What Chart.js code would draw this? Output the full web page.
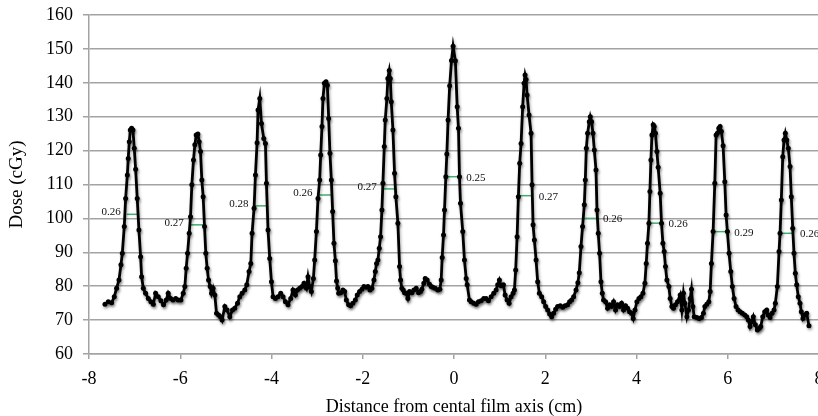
<!DOCTYPE html>
<html>
<head>
<meta charset="utf-8">
<script src="https://cdn.jsdelivr.net/npm/chart.js@4.4.1/dist/chart.umd.min.js"></script>
<style>
  html, body { margin: 0; padding: 0; background: #fff; overflow: hidden; }
  #wrap { width: 818px; height: 416px; overflow: hidden; }
</style>
</head>
<body>
<div id="wrap"><canvas id="chart" width="830" height="416"></canvas></div>
<script>
// film profile, distance from central axis (cm) and dose (cGy)
const distance = [
  -7.650,-7.577,-7.504,-7.446,-7.395,-7.343,-7.300,-7.270,-7.227,-7.197,
  -7.160,-7.140,-7.117,-7.095,-7.066,-7.037,-7.008,-6.978,-6.943,-6.906,
  -6.869,-6.847,-6.810,-6.760,-6.700,-6.643,-6.590,-6.540,-6.483,-6.424,
  -6.366,-6.307,-6.264,-6.212,-6.160,-6.100,-6.045,-5.986,-5.935,-5.899,
  -5.870,-5.840,-5.804,-5.775,-5.746,-5.710,-5.680,-5.651,-5.614,-5.585,
  -5.556,-5.527,-5.498,-5.468,-5.440,-5.410,-5.380,-5.345,-5.315,-5.280,
  -5.242,-5.205,-5.160,-5.120,-5.083,-5.023,-4.973,-4.914,-4.855,-4.805,
  -4.745,-4.695,-4.645,-4.586,-4.542,-4.492,-4.454,-4.426,-4.382,-4.352,
  -4.316,-4.295,-4.257,-4.220,-4.170,-4.133,-4.111,-4.076,-4.039,-4.001,
  -3.966,-3.914,-3.857,-3.798,-3.747,-3.695,-3.638,-3.579,-3.529,-3.476,
  -3.432,-3.382,-3.332,-3.288,-3.235,-3.200,-3.163,-3.126,-3.082,-3.054,
  -3.016,-2.981,-2.944,-2.922,-2.894,-2.872,-2.841,-2.806,-2.776,-2.747,
  -2.719,-2.688,-2.660,-2.631,-2.600,-2.575,-2.550,-2.528,-2.485,-2.434,
  -2.397,-2.360,-2.310,-2.266,-2.216,-2.163,-2.120,-2.069,-2.018,-1.974,
  -1.922,-1.886,-1.842,-1.800,-1.755,-1.725,-1.697,-1.668,-1.638,-1.609,
  -1.580,-1.558,-1.528,-1.507,-1.471,-1.450,-1.419,-1.397,-1.375,-1.339,
  -1.303,-1.274,-1.230,-1.193,-1.171,-1.143,-1.113,-1.084,-1.048,-1.011,
  -0.974,-0.923,-0.880,-0.828,-0.777,-0.734,-0.705,-0.661,-0.631,-0.588,
  -0.537,-0.500,-0.464,-0.412,-0.355,-0.310,-0.281,-0.259,-0.230,-0.208,
  -0.179,-0.157,-0.130,-0.095,-0.055,-0.020,0.030,0.070,0.098,0.120,
  0.142,0.192,0.229,0.267,0.289,0.339,0.376,0.433,0.485,0.536,
  0.595,0.652,0.704,0.755,0.814,0.871,0.923,0.958,0.995,1.033,
  1.083,1.120,1.164,1.208,1.252,1.295,1.324,1.352,1.383,1.411,
  1.440,1.470,1.505,1.536,1.558,1.580,1.602,1.645,1.689,1.711,
  1.733,1.762,1.799,1.834,1.871,1.921,1.965,2.009,2.053,2.096,
  2.140,2.184,2.228,2.271,2.330,2.381,2.433,2.490,2.534,2.578,
  2.622,2.674,2.715,2.746,2.783,2.818,2.856,2.878,2.900,2.928,
  2.965,2.987,3.016,3.046,3.075,3.112,3.134,3.162,3.191,3.221,
  3.250,3.278,3.322,3.366,3.410,3.453,3.497,3.541,3.585,3.629,
  3.672,3.716,3.760,3.804,3.847,3.891,3.928,3.966,4.009,4.053,
  4.097,4.141,4.184,4.213,4.241,4.272,4.294,4.316,4.338,4.366,
  4.388,4.416,4.447,4.475,4.519,4.548,4.578,4.607,4.635,4.666,
  4.710,4.738,4.775,4.810,4.854,4.898,4.957,4.994,5.029,5.060,
  5.104,5.139,5.176,5.205,5.235,5.264,5.323,5.373,5.423,5.467,
  5.498,5.541,5.585,5.614,5.642,5.679,5.716,5.745,5.773,5.804,
  5.832,5.861,5.898,5.935,5.964,5.992,6.029,6.066,6.101,6.139,
  6.182,6.226,6.270,6.320,6.373,6.416,6.451,6.489,6.526,6.561,
  6.605,6.649,6.693,6.723,6.767,6.810,6.854,6.883,6.927,6.971,
  7.014,7.043,7.087,7.124,7.146,7.174,7.205,7.233,7.262,7.293,
  7.327,7.365,7.393,7.424,7.452,7.481,7.511,7.546,7.583,7.612,
  7.649,7.686,7.730,7.780
];
const dose = [
  74.7,75.4,75.1,76.9,79.4,81.8,86.3,89.7,97.6,105.9,
  112.8,117.7,122.6,126.1,126.6,126.1,120.7,114.5,105.9,96.6,
  88.7,82.8,79.4,77.9,76.4,75.4,74.7,77.9,76.9,75.7,
  74.5,75.9,77.9,76.4,75.9,76.4,75.9,75.9,77.9,79.9,
  85.3,89.7,95.6,100.5,109.9,117.2,121.7,124.6,124.9,122.6,
  119.7,111.3,106.4,97.6,89.7,85.3,81.8,79.9,77.9,79.4,
  77.4,72.0,71.5,71.0,70.0,74.0,73.0,71.0,73.0,73.5,
  75.0,76.9,77.9,78.9,80.4,84.3,86.7,95.6,103.0,112.8,
  122.3,132.0,135.4,128.0,123.6,122.1,110.4,96.6,88.2,81.3,
  76.9,76.4,76.9,77.9,76.9,75.4,74.5,76.4,78.9,77.4,
  78.9,79.4,79.9,80.9,79.4,82.8,79.9,78.4,82.3,87.7,
  96.1,105.9,111.3,118.7,127.1,135.4,139.9,140.3,139.3,129.5,
  119.2,111.3,102.0,92.7,87.5,81.5,79.5,77.9,78.1,78.9,
  78.4,75.9,74.5,74.2,75.0,75.9,77.4,78.4,79.1,79.9,
  79.7,79.9,78.9,79.4,81.8,84.3,86.7,87.7,91.2,94.6,
  102.5,110.4,121.2,129.0,135.4,141.3,143.6,141.3,134.4,126.1,
  113.3,106.4,98.6,85.8,81.8,79.4,78.9,78.1,77.9,76.4,
  78.4,78.1,78.9,79.4,78.1,78.4,79.1,80.9,82.3,81.8,
  80.6,79.9,79.7,79.4,78.9,79.1,81.8,88.5,95.1,102.5,
  112.3,119.0,129.0,139.1,146.6,150.8,146.5,132.9,126.6,112.3,
  104.5,96.1,87.7,82.3,80.4,75.9,75.4,75.0,74.7,75.4,
  75.7,76.4,76.4,75.7,76.9,77.9,78.9,80.4,81.8,80.1,
  80.4,77.4,75.9,75.0,76.9,77.9,78.9,84.8,94.6,106.4,
  116.3,122.1,132.9,139.9,142.3,141.0,136.4,130.5,125.1,109.9,
  98.1,93.6,87.7,81.3,77.9,76.9,75.4,74.0,73.0,71.8,
  71.0,72.0,73.2,74.0,74.2,73.8,74.2,74.5,75.4,75.9,
  76.9,78.9,81.0,84.0,91.7,97.6,104.0,111.3,120.7,125.1,
  128.5,130.0,128.5,125.1,120.2,114.3,102.5,95.6,89.7,81.3,
  77.9,75.9,75.4,73.5,74.5,74.0,75.4,73.0,74.5,74.0,
  75.0,73.0,74.2,73.5,72.5,72.0,70.5,73.0,75.4,76.4,
  76.9,77.9,80.9,86.7,92.7,98.6,107.9,117.2,124.6,127.6,
  127.1,125.1,119.7,115.1,107.4,98.6,92.7,90.2,85.8,81.8,
  79.9,76.4,74.0,73.5,74.5,75.4,77.4,73.0,77.9,75.0,
  71.0,73.0,76.4,79.1,74.0,71.0,70.8,70.5,70.8,72.0,
  74.0,74.7,75.4,78.4,86.7,96.1,110.4,124.6,125.1,126.6,
  127.1,125.6,121.4,110.8,101.0,96.1,89.7,84.3,79.9,76.4,
  74.0,73.0,72.5,72.0,71.5,71.0,70.0,68.1,69.5,71.0,
  68.6,67.1,67.6,68.1,71.0,72.5,73.0,71.5,70.8,72.0,
  73.0,75.0,79.9,90.2,95.6,105.4,118.2,123.1,125.1,123.1,
  120.7,115.3,106.4,97.1,89.7,83.8,80.4,76.9,75.0,72.5,
  70.5,71.5,72.0,68.3
];

// FWHM markers per peak (cm)
const fwhmText = ['0.26', '0.27', '0.28', '0.26', '0.27', '0.25', '0.27', '0.26', '0.26', '0.29', '0.26'];
const fwhmFrom = [-7.175, -5.79, -4.37, -2.97, -1.56, -0.136, 1.43, 2.856, 4.28, 5.70, 7.17];
const fwhmTo = [-6.92, -5.50, -4.08, -2.69, -1.27, 0.136, 1.725, 3.134, 4.57, 6.01, 7.45];
const fwhmDose = [101.2, 98.1, 103.7, 106.9, 108.7, 112.3, 106.7, 100.0, 98.6, 96.1, 95.6];

const xTicks = [-8, 8, 2];   // min, max, step
const yTicks = [60, 160, 10];

const serif = '"Liberation Serif", "Times New Roman", serif';
const gridGray = '#a3a3a3';

const profile = distance.map((d, i) => ({ x: d, y: dose[i] }));

const datasets = [{
  label: 'Dose',
  data: profile,
  borderColor: '#000',
  backgroundColor: '#000',
  borderWidth: 2.8,
  pointRadius: 2.5,
  pointBorderWidth: 0,
  pointBackgroundColor: '#000',
  tension: 0,
  order: 0
}];

fwhmText.forEach((t, i) => {
  datasets.push({
    label: 'FWHM ' + t,
    data: [{ x: fwhmFrom[i], y: fwhmDose[i] }, { x: fwhmTo[i], y: fwhmDose[i] }],
    borderColor: '#3fae6e',
    borderWidth: 1.5,
    pointRadius: 0,
    order: 1
  });
});

// Excel-ish drop shadow under the profile line
const shadowPlugin = {
  id: 'shadow',
  beforeDatasetDraw(chart, args) {
    if (args.index !== 0) return;
    const ctx = chart.ctx;
    ctx.save();
    ctx.shadowColor = 'rgba(0,0,0,0.35)';
    ctx.shadowBlur = 3;
    ctx.shadowOffsetX = 1;
    ctx.shadowOffsetY = 2;
  },
  afterDatasetDraw(chart, args) {
    if (args.index !== 0) return;
    chart.ctx.restore();
  }
};

const fwhmLabels = {
  id: 'fwhmLabels',
  afterDatasetsDraw(chart) {
    const { ctx, scales: { x, y } } = chart;
    ctx.save();
    ctx.font = '11px ' + serif;
    ctx.fillStyle = '#111';
    ctx.textBaseline = 'middle';
    fwhmText.forEach((t, i) => {
      const py = y.getPixelForValue(fwhmDose[i]);
      if (fwhmTo[i] < 0) {
        ctx.textAlign = 'right';
        ctx.fillText(t, x.getPixelForValue(fwhmFrom[i]) - 6, py - 2);
      } else {
        ctx.textAlign = 'left';
        ctx.fillText(t, x.getPixelForValue(fwhmTo[i]) + 6, py + 1);
      }
    });
    ctx.restore();
  }
};

new Chart(document.getElementById('chart'), {
  type: 'line',
  data: { datasets },
  plugins: [shadowPlugin, fwhmLabels],
  options: {
    responsive: false,
    animation: false,
    events: [],
    layout: { padding: { top: 15, right: 11, bottom: 0, left: 0 } },
    plugins: { legend: { display: false }, tooltip: { enabled: false } },
    scales: {
      x: {
        type: 'linear',
        min: xTicks[0],
        max: xTicks[1],
        afterFit: (s) => { s.height = 62; s.paddingLeft = 0; s.paddingRight = 0; },
        ticks: { stepSize: xTicks[2], padding: 9, color: '#000', font: { family: serif, size: 18 } },
        grid: { drawOnChartArea: false, drawTicks: true, tickLength: 5, color: gridGray, lineWidth: 1.5 },
        border: { color: gridGray, width: 1.5 },
        title: {
          display: true,
          text: 'Distance from cental film axis (cm)',
          color: '#000',
          font: { family: serif, size: 18, lineHeight: 1 },
          padding: { top: 0, bottom: 0 }
        }
      },
      y: {
        min: yTicks[0],
        max: yTicks[1],
        afterFit: (s) => { s.width = 89; s.paddingTop = 0; s.paddingBottom = 0; },
        ticks: { stepSize: yTicks[2], padding: 10, color: '#000', font: { family: serif, size: 18 } },
        grid: { color: gridGray, lineWidth: 1.5, tickLength: 6 },
        border: { color: gridGray, width: 1.5 },
        title: {
          display: true,
          text: 'Dose (cGy)',
          color: '#000',
          font: { family: serif, size: 19 },
          padding: { top: 6, bottom: 0 }
        }
      }
    }
  }
});
</script>
</body>
</html>
